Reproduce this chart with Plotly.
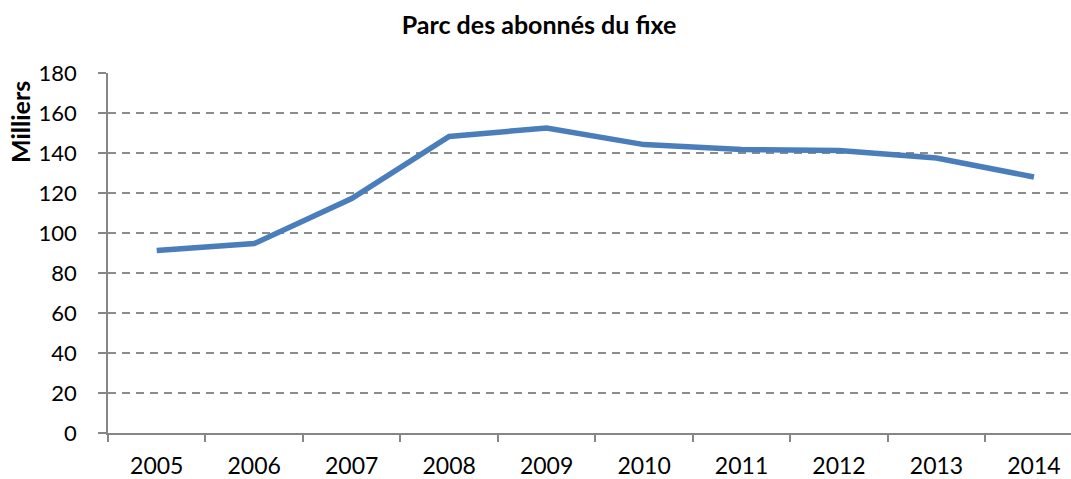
import plotly.graph_objects as go

years = ["2005", "2006", "2007", "2008", "2009", "2010", "2011", "2012", "2013", "2014"]
subscribers = [91.3, 94.7, 117.2, 148.3, 152.5, 144.2, 141.7, 141.3, 137.5, 128.0]
y_ticks = [0, 20, 40, 60, 80, 100, 120, 140, 160, 180]

W, H = 1071, 479
fig = go.Figure()
fig.add_trace(go.Scatter(
    x=years, y=subscribers, mode="lines",
    line=dict(color="#4a7ebb", width=5.5),
    hoverinfo="x+y", showlegend=False,
))

font = "Lato, 'Open Sans', sans-serif"
fig.update_layout(
    width=W, height=H,
    margin=dict(l=108, r=0, t=73, b=46, autoexpand=False),
    paper_bgcolor="white", plot_bgcolor="white",
    font=dict(family=font, size=23, color="#000000"),
    title=dict(text="<b>Parc des abonnés du fixe</b>", x=539 / W, xanchor="center",
               y=1 - 25 / H, yanchor="middle", font=dict(size=25, family=font)),
    xaxis=dict(
        type="category", range=[-0.5, 9.38], tickson="boundaries",
        showgrid=False, showline=True, linecolor="#868686", linewidth=1.5,
        ticks="outside", ticklen=7, tickcolor="#868686", tickwidth=1.5,
        tickfont=dict(size=23), ticklabelstandoff=12, automargin=False, fixedrange=True,
    ),
    yaxis=dict(
        range=[0, 180], tickvals=y_ticks,
        showgrid=True, gridcolor="#8c8c8c", gridwidth=1.6, griddash="8px,6px",
        showline=True, linecolor="#868686", linewidth=1.5,
        ticks="outside", ticklen=8, tickcolor="#868686", tickwidth=1.5,
        tickfont=dict(size=22), ticklabelstandoff=17, automargin=False,
        zeroline=False, fixedrange=True,
    ),
    annotations=[dict(
        text="<b>Milliers</b>", textangle=-90, xref="paper", yref="paper",
        x=-88 / (W - 108), y=(479 - 46 - 122) / (479 - 73 - 46),
        xanchor="center", yanchor="middle", showarrow=False,
        font=dict(size=25, family=font),
    )],
)

fig.write_html(
    "out.html",
    config={"displayModeBar": False},
    post_script="document.body.style.margin='0';document.body.style.overflow='hidden';",
)
